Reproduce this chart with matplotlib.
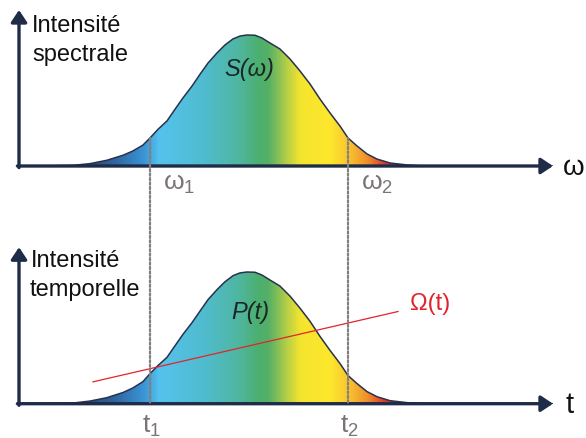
import numpy as np
import matplotlib
matplotlib.use("Agg")
import matplotlib.pyplot as plt
from matplotlib.colors import LinearSegmentedColormap
from matplotlib.patches import Polygon, ConnectionPatch

plt.rcParams["font.family"] = ["Liberation Sans", "DejaVu Sans"]
plt.rcParams["mathtext.fontset"] = "custom"
plt.rcParams["mathtext.rm"] = "Liberation Sans"
plt.rcParams["mathtext.it"] = "Liberation Sans:italic"

# spectral intensity S(omega), arbitrary units, peak normalised to 1
omega = [0, 21, 54, 71, 88, 104, 114, 124, 131, 139, 148, 156, 164, 173, 181,
         189, 198, 206, 214, 221, 228, 236, 243, 251, 261, 271, 281, 291, 301,
         311, 321, 329, 338, 348, 358, 371, 388, 404, 534]
spectrum = [0, 0, 0.005, 0.018, 0.044, 0.082, 0.115, 0.16, 0.214, 0.28, 0.344,
            0.433, 0.52, 0.61, 0.70, 0.786, 0.863, 0.924, 0.97, 0.992, 1.0,
            0.998, 0.977, 0.939, 0.893, 0.817, 0.725, 0.626, 0.511, 0.405,
            0.305, 0.214, 0.153, 0.092, 0.053, 0.023, 0.008, 0, 0]

# temporal intensity P(t), arbitrary units
t = [0, 21, 54, 71, 88, 104, 114, 124, 131, 139, 148, 156, 164, 173, 181,
     189, 198, 206, 214, 221, 228, 236, 243, 251, 261, 271, 281, 291, 301,
     311, 321, 329, 338, 348, 358, 371, 388, 404, 534]
pulse = [0, 0, 0.005, 0.02, 0.046, 0.085, 0.12, 0.168, 0.228, 0.29, 0.352,
         0.44, 0.527, 0.615, 0.703, 0.79, 0.866, 0.926, 0.972, 0.993, 1.0,
         0.998, 0.977, 0.939, 0.893, 0.817, 0.725, 0.626, 0.511, 0.405,
         0.305, 0.214, 0.153, 0.092, 0.053, 0.023, 0.008, 0, 0]

# instantaneous frequency Omega(t) (linear chirp)
chirp_t = [74, 379]
chirp_val = [0.166, 0.70]

# bandwidth / duration markers
omega_marks = [131, 329]
omega_labels = [r"$\mathregular{ω_1}$", r"$\mathregular{ω_2}$"]
t_marks = [131, 329]
t_labels = [r"$\mathregular{t_1}$", r"$\mathregular{t_2}$"]

NAVY = "#1f2c47"
GRAY = "#7b7474"
RED = "#e3232c"

# rainbow gradient used inside the curves (position along x, colour)
grad_stops = [(0, "#253a5e"), (51, "#253a5e"), (95, "#2e65a0"), (125, "#3b95d6"),
              (140, "#55c2ee"), (185, "#50bcce"), (220, "#4fb6a0"),
              (240, "#4caf6e"), (250, "#55b066"), (268, "#b5cf47"),
              (282, "#f5e42e"), (312, "#fde82c"), (332, "#f8c030"),
              (350, "#ee8c2c"), (366, "#dd3a2c"), (378, "#c8283a"),
              (392, "#2a3352"), (420, "#2a3352")]
gx0, gx1 = grad_stops[0][0], grad_stops[-1][0]
cmap = LinearSegmentedColormap.from_list(
    "spec", [((p - gx0) / (gx1 - gx0), c) for p, c in grad_stops])

W, H = 586, 438
fig = plt.figure(figsize=(W / 100, H / 100), dpi=100)
ax1 = fig.add_axes([19 / W, 272 / H, 534 / W, 156 / H])
ax2 = fig.add_axes([19 / W, 34.3 / H, 534 / W, 156.5 / H])


def draw_panel(ax, x, y, ytop):
    x = np.asarray(x, float)
    y = np.asarray(y, float)
    grad = np.linspace(0, 1, 600)[None, :]
    im = ax.imshow(grad, extent=(gx0, gx1, 0, 1.05), aspect="auto",
                   cmap=cmap, origin="lower", zorder=1)
    verts = np.column_stack([x, y])
    patch = Polygon(verts, closed=True, facecolor="none", edgecolor="none")
    ax.add_patch(patch)
    im.set_clip_path(patch)
    ax.plot(x, y, color="#28324d", lw=1.1, zorder=2)
    arrow = dict(arrowstyle="-|>,head_length=0.45,head_width=0.3",
                 color=NAVY, lw=2.4, shrinkA=0, shrinkB=0, mutation_scale=16)
    ax.annotate("", xy=(534, 0), xytext=(-1.6, 0), arrowprops=arrow,
                annotation_clip=False, zorder=5)
    ax.annotate("", xy=(0, ytop), xytext=(0, -1.6 / 131), arrowprops=arrow,
                annotation_clip=False, zorder=5)
    ax.set_xlim(0, 534)
    ax.set_ylim(0, ytop)
    ax.axis("off")


draw_panel(ax1, omega, spectrum, 156 / 131)
draw_panel(ax2, t, pulse, 156.5 / 131.7)

# dotted markers from the spectrum down to the time axis
for w in omega_marks:
    con = ConnectionPatch(xyA=(w, np.interp(w, omega, spectrum)), coordsA=ax1.transData,
                          xyB=(w, 0), coordsB=ax2.transData,
                          color="#858080", lw=1.6, linestyle=(0, (1, 1)), zorder=6)
    fig.add_artist(con)

for w, lab in zip(omega_marks, omega_labels):
    ax1.text(w + 13, -0.183, lab, fontsize=19, color=GRAY, ha="left", va="baseline")
for tm, lab in zip(t_marks, t_labels):
    ax2.text(tm - 8, -0.222, lab, fontsize=19, color=GRAY, ha="left", va="baseline")

# chirp line
ax2.plot(chirp_t, chirp_val, color=RED, lw=0.9, zorder=4)
ax2.text(391, 0.711, "Ω(t)", fontsize=17, color=RED, ha="left", va="baseline")

# curve names
ax1.text(230, 0.733, "S(ω)", fontsize=17, style="italic", color="#1b2626",
         ha="center", va="center")
ax2.text(231, 0.696, "P(t)", fontsize=17, style="italic", color="#1b2626",
         ha="center", va="center")

# axis titles
ax1.text(13, 1.023, "Intensité", fontsize=17, color="#111111", va="baseline")
ax1.text(13, 0.80, "spectrale", fontsize=17, color="#111111", va="baseline")
ax2.text(12, 1.038, "Intensité", fontsize=17, color="#111111", va="baseline")
ax2.text(11, 0.818, "temporelle", fontsize=17, color="#111111", va="baseline")
ax1.text(544, -0.07, "ω", fontsize=20, color="#111111", va="baseline", clip_on=False)
ax2.text(546, -0.07, "t", fontsize=21, color="#111111", va="baseline", clip_on=False)

fig.savefig("out.png", dpi=100)
